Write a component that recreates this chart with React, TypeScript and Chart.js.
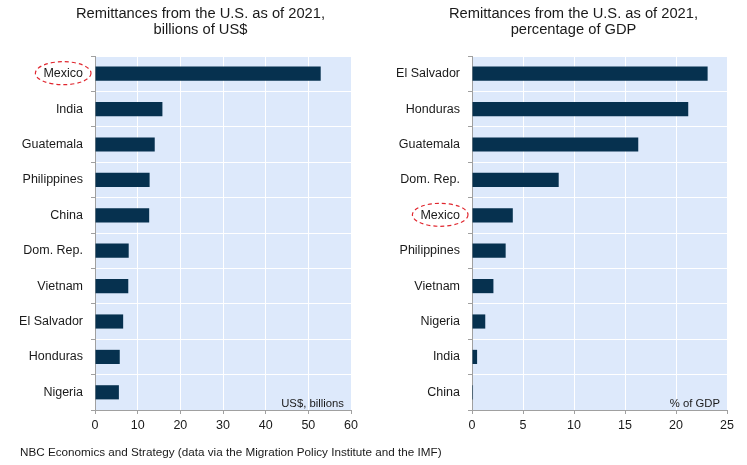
import React, { useEffect, useRef } from 'react';
import { Chart, registerables } from 'chart.js';

Chart.register(...registerables);

// ---- Data ----
const leftCategories = ['Mexico', 'India', 'Guatemala', 'Philippines', 'China', 'Dom. Rep.', 'Vietnam', 'El Salvador', 'Honduras', 'Nigeria'];
const leftValues = [52.9, 15.8, 14.0, 12.8, 12.7, 7.9, 7.8, 6.6, 5.8, 5.6];
const leftTicks = [0, 10, 20, 30, 40, 50, 60];
const leftTitle = ['Remittances from the U.S. as of 2021,', 'billions of US$'];
const leftUnit = 'US$, billions';

const rightCategories = ['El Salvador', 'Honduras', 'Guatemala', 'Dom. Rep.', 'Mexico', 'Philippines', 'Vietnam', 'Nigeria', 'India', 'China'];
const rightValues = [23.1, 21.2, 16.3, 8.5, 4.0, 3.3, 2.1, 1.3, 0.5, 0.1];
const rightTicks = [0, 5, 10, 15, 20, 25];
const rightTitle = ['Remittances from the U.S. as of 2021,', 'percentage of GDP'];
const rightUnit = '% of GDP';

const highlightCategory = 'Mexico';
const footerText = 'NBC Economics and Strategy (data via the Migration Policy Institute and the IMF)';

// ---- Styles ----
const FONT = 'Arial, "Liberation Sans", sans-serif';
const BAR = '#06314F';
const BG = '#DDE9FB';
const AXIS = '#A0A0A0';
const TEXT = '#1a1a1a';
const RED = '#E0262E';
const TICK_SIZE = 12.5;

const decorPlugin = {
  id: 'decor',
  beforeDraw(chart: any, _args: any, opts: any) {
    const { ctx, chartArea: a } = chart;
    ctx.save();
    ctx.fillStyle = BG;
    ctx.fillRect(a.left, a.top, a.right - a.left, a.bottom - a.top);
    ctx.restore();
  },
  afterDraw(chart: any, _args: any, opts: any) {
    const { ctx, chartArea: a } = chart;
    ctx.save();
    // Title
    ctx.fillStyle = TEXT;
    ctx.font = `14.7px ${FONT}`;
    ctx.textAlign = 'center';
    ctx.textBaseline = 'alphabetic';
    (opts.title || []).forEach((line: string, i: number) => {
      ctx.fillText(line, opts.titleX, 17.5 + i * 16.3);
    });
    // Unit label
    if (opts.unit) {
      ctx.font = `11.3px ${FONT}`;
      ctx.textAlign = 'right';
      ctx.fillText(opts.unit, a.right - 7, a.bottom - 3.5);
    }
    // Footer
    if (opts.footer) {
      ctx.font = `11.7px ${FONT}`;
      ctx.textAlign = 'left';
      ctx.fillText(opts.footer, 20, 456);
    }
    // Highlight ellipse
    if (opts.highlight) {
      const yScale = chart.scales.y;
      const idx = chart.data.labels.indexOf(opts.highlight);
      if (idx >= 0) {
        const cy = yScale.getPixelForValue(idx);
        ctx.font = `${TICK_SIZE}px ${FONT}`;
        const w = ctx.measureText(opts.highlight).width;
        const right = a.left - 12;
        const cx = right - w / 2;
        ctx.beginPath();
        ctx.ellipse(cx, cy - 0.5, w / 2 + 8, 11.5, 0, 0, Math.PI * 2);
        ctx.strokeStyle = RED;
        ctx.lineWidth = 1.2;
        ctx.setLineDash([4, 3]);
        ctx.stroke();
      }
    }
    ctx.restore();
  },
};

type PanelProps = {
  left: number;
  width: number;
  categories: string[];
  values: number[];
  ticks: number[];
  title: string[];
  unit: string;
  yWidth: number;
  padRight: number;
  footer?: string;
};

function Panel(p: PanelProps) {
  const ref = useRef<HTMLCanvasElement | null>(null);
  useEffect(() => {
    if (!ref.current) return;
    const max = p.ticks[p.ticks.length - 1];
    const chart = new Chart(ref.current, {
      type: 'bar',
      data: {
        labels: p.categories,
        datasets: [
          {
            data: p.values,
            backgroundColor: BAR,
            barPercentage: 0.4,
            categoryPercentage: 1,
          },
        ],
      },
      plugins: [decorPlugin as any],
      options: {
        indexAxis: 'y',
        responsive: false,
        animation: false,
        devicePixelRatio: 1,
        layout: { padding: { left: 0, top: 56, right: p.padRight, bottom: 25 } },
        plugins: {
          legend: { display: false },
          tooltip: { enabled: false },
          title: { display: false },
          decor: {
            title: p.title,
            titleX: 200.5,
            unit: p.unit,
            footer: p.footer,
            highlight: highlightCategory,
          },
        } as any,
        scales: {
          x: {
            type: 'linear',
            min: 0,
            max,
            afterBuildTicks: (s: any) => {
              s.ticks = p.ticks.map((v) => ({ value: v }));
            },
            afterFit: (s: any) => {
              s.height = 30;
            },
            ticks: {
              font: { family: FONT, size: TICK_SIZE },
              color: TEXT,
              padding: 4,
              maxRotation: 0,
            },
            grid: { color: '#ffffff', tickColor: AXIS, tickLength: 4, lineWidth: 1 },
            border: { color: AXIS },
          },
          y: {
            afterFit: (s: any) => {
              s.width = p.yWidth;
            },
            ticks: {
              font: { family: FONT, size: TICK_SIZE },
              color: TEXT,
              padding: 8,
            },
            grid: { color: '#ffffff', tickColor: AXIS, tickLength: 4, offset: true, lineWidth: 1 },
            border: { color: AXIS },
          },
        },
      } as any,
    });
    return () => chart.destroy();
  }, []);
  return (
    <canvas
      ref={ref}
      width={p.width}
      height={465}
      style={{ position: 'absolute', left: p.left, top: 0, width: p.width, height: 465, display: 'block' }}
    />
  );
}

export default function App() {
  return (
    <div style={{ position: 'fixed', left: 0, top: 0, width: 747, height: 465, background: '#ffffff' }}>
      <Panel
        left={0}
        width={747}
        categories={leftCategories}
        values={leftValues}
        ticks={leftTicks}
        title={leftTitle}
        unit={leftUnit}
        yWidth={95}
        padRight={747 - 351}
        footer={footerText}
      />
      <Panel
        left={373}
        width={374}
        categories={rightCategories}
        values={rightValues}
        ticks={rightTicks}
        title={rightTitle}
        unit={rightUnit}
        yWidth={99}
        padRight={374 - 727 + 373}
      />
    </div>
  );
}
